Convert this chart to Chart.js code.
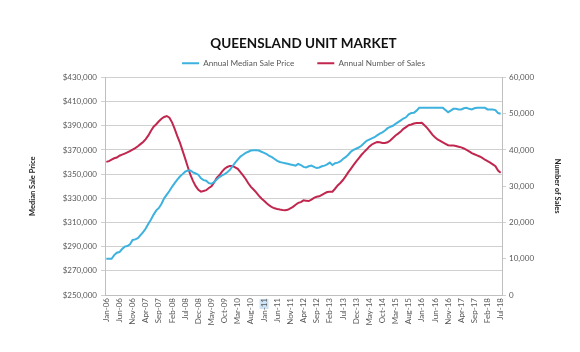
<!DOCTYPE html>
<html>
<head>
<meta charset="utf-8">
<title>Queensland Unit Market</title>
<script src="https://cdn.jsdelivr.net/npm/chart.js@4.4.1/dist/chart.umd.min.js"></script>
<style>
	body { margin: 0; background: #fff; }
	#wrap { width: 580px; height: 352px; }
</style>
</head>
<body>
<div id="wrap"><canvas id="unitChart" width="580" height="352"></canvas></div>
<script>
// Monthly rolling figures, Jan-06 to Jul-18
const monthNames = ['Jan', 'Feb', 'Mar', 'Apr', 'May', 'Jun', 'Jul', 'Aug', 'Sep', 'Oct', 'Nov', 'Dec'];
const startYear = 6;
const monthCount = 151;
const tickStep = 5;
const highlightedLabel = 'Jan-11';

const medianPrice = [
	280000, 280000, 280000, 283000, 285000, 285500, 288000, 290000, 290500, 292000,
	295500, 296000, 297000, 299500, 302000, 305000, 309000, 312500, 316500, 320000,
	322000, 325500, 330000, 333000, 336000, 339500, 342500, 345500, 348000, 350000,
	352000, 353000, 353000, 351500, 350500, 349500, 346500, 345000, 344500, 342500,
	342000, 343500, 345500, 347500, 349000, 350000, 351500, 353500, 356500, 359500,
	362000, 364500, 366000, 367500, 368500, 369500, 369800, 369800, 369500, 368500,
	367500, 366500, 365000, 364000, 362500, 361000, 360000, 359500, 359000, 358500,
	358000, 357500, 357000, 358500, 357500, 356000, 355500, 356500, 357000, 356000,
	355000, 355500, 356500, 357000, 358000, 359500, 357500, 359000, 359500, 360500,
	362500, 364000, 366000, 368500, 370000, 371000, 372000, 373500, 375500, 377500,
	378500, 379500, 380500, 382000, 383500, 384500, 386000, 388000, 389000, 390000,
	391500, 393000, 394500, 396000, 397000, 399500, 400500, 400700, 402500, 404800,
	404800, 404800, 404800, 404800, 404800, 404800, 404800, 404800, 404800, 403000,
	401200, 402500, 404000, 404000, 403500, 403500, 404500, 404800, 404000, 403500,
	404500, 404800, 404800, 404800, 404800, 403500, 403500, 403500, 403000, 400500,
	400000
];

const numberOfSales = [
	36700, 36900, 37300, 37700, 37900, 38400, 38700, 39000, 39300, 39700,
	40100, 40500, 41000, 41600, 42200, 43000, 44000, 45300, 46400, 47100,
	47900, 48600, 49100, 49350, 48900, 47600, 45800, 43800, 42000, 39800,
	37600, 35300, 33100, 31400, 30000, 29000, 28500, 28700, 28900, 29500,
	30000, 31000, 32300, 33000, 34000, 34800, 35300, 35600, 35600, 35200,
	34800, 33900, 33000, 32000, 30800, 29800, 29100, 28300, 27400, 26600,
	26000, 25300, 24700, 24200, 23900, 23700, 23550, 23450, 23400, 23500,
	23900, 24300, 24900, 25400, 25600, 26100, 26000, 25900, 26300, 26800,
	27100, 27200, 27600, 28000, 28400, 28500, 28500, 29300, 30200, 30900,
	31700, 32700, 33800, 34800, 35800, 36800, 37700, 38600, 39400, 40100,
	40900, 41500, 41900, 42200, 42100, 41900, 41900, 42100, 42600, 43300,
	44000, 44500, 45100, 45800, 46300, 46800, 47000, 47300, 47450, 47400,
	47500, 46800, 46100, 45200, 44200, 43500, 42900, 42500, 42100, 41700,
	41300, 41200, 41200, 41100, 40900, 40700, 40400, 40000, 39600, 39100,
	38800, 38500, 38200, 37800, 37300, 36900, 36500, 36000, 35500, 34300,
	33700
];

const priceAxis = { min: 250000, max: 430000, step: 20000 };
const salesAxis = { min: 0, max: 60000, step: 10000 };

const categories = [];
for (let i = 0; i < monthCount; i++) {
	const yy = startYear + Math.floor(i / 12);
	categories.push(monthNames[i % 12] + '-' + String(yy).padStart(2, '0'));
}

const FONT = "'Lato', 'Liberation Sans', sans-serif";
const BLUE = '#3db2de';
const RED = '#c1274e';
const GRID = '#d0d0d0';
const TEXT = '#595959';

// the x label that is selected in the source sheet gets a pale box
const selectedLabelPlugin = {
	id: 'selectedLabel',
	beforeDraw(chart) {
		const xScale = chart.scales.x;
		const idx = categories.indexOf(highlightedLabel);
		if (idx < 0) return;
		const px = xScale.getPixelForValue(idx);
		const ctx = chart.ctx;
		ctx.save();
		ctx.fillStyle = '#cde3f6';
		ctx.fillRect(px - 4.5, xScale.top + 4, 9, 10);
		ctx.restore();
	}
};

const ctx = document.getElementById('unitChart').getContext('2d');
new Chart(ctx, {
	type: 'line',
	data: {
		labels: categories,
		datasets: [{
			label: 'Annual Median Sale Price',
			data: medianPrice,
			borderColor: BLUE,
			backgroundColor: BLUE,
			borderWidth: 2,
			pointRadius: 0,
			tension: 0,
			yAxisID: 'y'
		}, {
			label: 'Annual Number of Sales',
			data: numberOfSales,
			borderColor: RED,
			backgroundColor: RED,
			borderWidth: 2,
			pointRadius: 0,
			tension: 0,
			yAxisID: 'y1'
		}]
	},
	options: {
		responsive: false,
		animation: false,
		layout: { padding: { left: 28, right: 18, top: 30, bottom: 20 } },
		plugins: {
			title: {
				display: true,
				fullSize: false,
				text: 'QUEENSLAND UNIT MARKET',
				color: '#111',
				font: { family: FONT, size: 13.5, weight: 'bold' },
				padding: { top: 6, bottom: -16 }
			},
			legend: {
				fullSize: false,
				labels: {
					color: TEXT,
					boxWidth: 17,
					boxHeight: 0,
					padding: 23,
					font: { family: FONT, size: 8.2 }
				}
			},
			tooltip: { enabled: false }
		},
		scales: {
			x: {
				offset: true,
				grid: { display: false, drawTicks: false },
				border: { display: true, color: '#bfbfbf' },
				afterFit: scale => { scale.height = 37; },
				ticks: {
					autoSkip: false,
					maxRotation: 90,
					minRotation: 90,
					padding: 3,
					color: TEXT,
					font: { family: FONT, size: 8 },
					callback: (val, index) => index % tickStep === 0 ? categories[index] : ''
				}
			},
			y: {
				position: 'left',
				min: priceAxis.min,
				max: priceAxis.max,
				afterFit: scale => { scale.width = 77; },
				grid: { color: GRID, tickLength: 4 },
				border: { display: true, color: '#bfbfbf' },
				ticks: {
					stepSize: priceAxis.step,
					padding: 4,
					color: TEXT,
					font: { family: FONT, size: 8 },
					callback: v => '$' + v.toLocaleString('en-US')
				},
				title: {
					display: true,
					text: 'Median Sale Price',
					color: '#262626',
					font: { family: FONT, size: 7.5, weight: 'bold' },
					padding: 0
				}
			},
			y1: {
				position: 'right',
				min: salesAxis.min,
				max: salesAxis.max,
				afterFit: scale => { scale.width = 60; },
				grid: { drawOnChartArea: false, color: GRID, tickLength: 4 },
				border: { display: true, color: '#bfbfbf' },
				ticks: {
					stepSize: salesAxis.step,
					padding: 3,
					color: TEXT,
					font: { family: FONT, size: 8 },
					callback: v => v.toLocaleString('en-US')
				},
				title: {
					display: true,
					text: 'Number of Sales',
					color: '#262626',
					font: { family: FONT, size: 7.5, weight: 'bold' },
					padding: 0
				}
			}
		}
	},
	plugins: [selectedLabelPlugin]
});
</script>
</body>
</html>
